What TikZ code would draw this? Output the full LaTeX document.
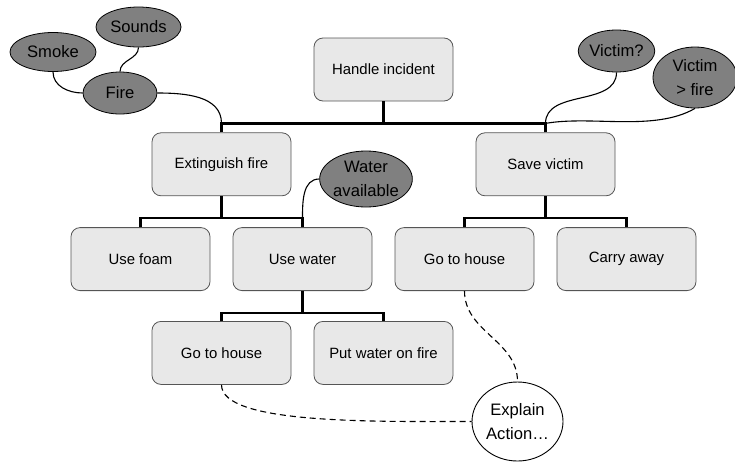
\documentclass[tikz,border=0pt]{standalone}
\usepackage{fontspec}
\setsansfont{Liberation Sans}
\usetikzlibrary{shapes.geometric, positioning}

\begin{document}
\begin{tikzpicture}[
    node distance=31pt and 23pt,
    font=\sffamily\fontsize{14.9pt}{24.5pt}\selectfont,
    % --- Styles ---
    task/.style={
        rectangle, minimum width=139pt, minimum height=63pt,
        text centered, rounded corners=9pt, line width=0.8pt,
        draw=task_border, fill=task_fill
    },
    cond/.style={
        ellipse, inner sep=0pt, align=center,
        font=\sffamily\fontsize{16.6pt}{24.5pt}\selectfont,
        draw=black, line width=0.8pt, fill=cond_fill
    },
    note/.style={
        ellipse, inner sep=0pt, align=center,
        font=\sffamily\fontsize{16.6pt}{24.5pt}\selectfont,
        draw=black, line width=0.9pt, fill=white
    },
    treeline/.style={line width=2.2pt, draw=black},
    link/.style={line width=1.1pt, draw=black},
    explainline/.style={link, dash pattern=on 6pt off 4pt}
]

    % ── Colour Palette ──────────────────────────────────────────────────
    \definecolor{task_fill}{RGB}{232, 232, 232}
    \definecolor{task_border}{RGB}{85, 85, 85}
    \definecolor{cond_fill}{RGB}{128, 128, 128}

    \useasboundingbox (0,0) rectangle (735pt,-461pt);

    % ── TASK TREE ───────────────────────────────────────────────────────

    % Root
    \node (handle) [task] at (383.5pt,-69.5pt) {Handle incident};

    % Level 1
    \node (extinguish) [task, below=31pt of handle, xshift=-162pt] {Extinguish fire};
    \node (save) [task, below=31pt of handle, xshift=162pt] {Save victim};

    % Level 2
    \node (foam) [task, below=31pt of extinguish, xshift=-81pt] {Use foam};
    \node (water) [task, below=31pt of extinguish, xshift=81pt] {Use water};
    \node (gohouseB) [task, below=31pt of save, xshift=-81pt] {Go to house};
    \node (carry) [task, below=31pt of save, xshift=81pt] {Carry away};

    % Level 3
    \node (gohouseA) [task, below=30pt of water, xshift=-81pt] {Go to house};
    \node (putwater) [task, below=30pt of water, xshift=81pt] {Put water on fire};

    % ── CONDITIONS ──────────────────────────────────────────────────────
    \node (fire) [cond, minimum width=74pt, minimum height=42pt] at (120pt,-93pt) {Fire};
    \node (smoke) [cond, minimum width=86pt, minimum height=39pt] at (53pt,-52pt) {Smoke};
    \node (sounds) [cond, minimum width=85pt, minimum height=40pt] at (138.5pt,-27pt) {Sounds};
    \node (victimq) [cond, minimum width=73pt, minimum height=42pt] at (616.5pt,-51pt) {Victim?};
    \node (victimfire) [cond, minimum width=84pt, minimum height=61pt] at (695pt,-77.5pt) {Victim\\> fire};
    \node (wateravail) [cond, minimum width=92pt, minimum height=56pt] at (366pt,-179pt) {Water\\available};

    % Explanation
    \node (explain) [note, minimum width=91pt, minimum height=79pt] at (517.5pt,-421.5pt) {Explain\\Action…};

    % ── TREE LINES ──────────────────────────────────────────────────────
    \draw [treeline] (extinguish.north) -- ++(0,9pt) coordinate (topL) -| (handle.south);
    \draw [treeline] (save.north) -- ++(0,9pt) coordinate (topR) -| (handle.south);

    \draw [treeline] (foam.north) -- ++(0,9pt) -| (extinguish.south);
    \draw [treeline] (water.north) -- ++(0,9pt) coordinate (waterR) -| (extinguish.south);

    \draw [treeline] (gohouseB.north) -- ++(0,9pt) -| (save.south);
    \draw [treeline] (carry.north) -- ++(0,9pt) -| (save.south);

    \draw [treeline] (gohouseA.north) -- ++(0,8pt) -| (water.south);
    \draw [treeline] (putwater.north) -- ++(0,8pt) -| (water.south);

    % ── CONDITION LINKS ─────────────────────────────────────────────────
    \draw [link] (smoke.south) to[out=-90, in=180] (fire.west);
    \draw [link] (sounds.south) to[out=-90, in=90] (fire.north);
    \draw [link] (fire.east) to[out=0, in=90] (topL);
    \draw [link] (victimq.south) to[out=-90, in=90] (topR);
    \draw [link] (victimfire.south) to[out=-150, in=10, looseness=0.8] (topR);
    \draw [link] (wateravail.west) to[out=180, in=90] (waterR);

    % Explanation links
    \draw [explainline] (gohouseA.south)
        to[out=-90, in=180, out looseness=0.4, in looseness=1] (explain.west);
    \draw [explainline] (gohouseB.south) to[out=-90, in=90] (explain.north);

\end{tikzpicture}
\end{document}
